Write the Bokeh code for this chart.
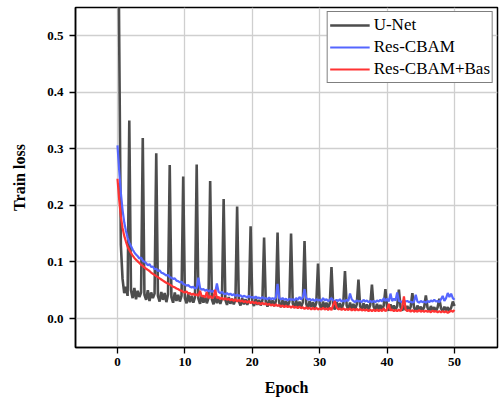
import numpy as np
from bokeh.plotting import figure
from bokeh.models import Range1d, FixedTicker, PrintfTickFormatter, Legend, LegendItem
from bokeh.embed import file_html
from bokeh.resources import INLINE

# Training loss sampled every quarter epoch (epoch 0 .. 50)
unet_loss = [
    0.900, 0.500, 0.130, 0.070, 0.045, 0.056, 0.040, 0.350,
    0.050, 0.036, 0.054, 0.034, 0.049, 0.038, 0.046, 0.319,
    0.042, 0.033, 0.050, 0.031, 0.046, 0.036, 0.044, 0.292,
    0.040, 0.030, 0.047, 0.033, 0.045, 0.029, 0.043, 0.271,
    0.038, 0.028, 0.046, 0.031, 0.042, 0.030, 0.040, 0.251,
    0.036, 0.027, 0.043, 0.029, 0.040, 0.028, 0.038, 0.272,
    0.035, 0.026, 0.041, 0.028, 0.039, 0.027, 0.036, 0.243,
    0.034, 0.025, 0.040, 0.027, 0.037, 0.026, 0.035, 0.211,
    0.033, 0.024, 0.038, 0.026, 0.035, 0.025, 0.034, 0.198,
    0.031, 0.023, 0.036, 0.025, 0.034, 0.024, 0.033, 0.163,
    0.030, 0.022, 0.035, 0.024, 0.033, 0.023, 0.032, 0.143,
    0.029, 0.021, 0.034, 0.023, 0.032, 0.022, 0.031, 0.152,
    0.028, 0.020, 0.033, 0.022, 0.031, 0.021, 0.030, 0.150,
    0.027, 0.019, 0.032, 0.021, 0.030, 0.020, 0.029, 0.137,
    0.026, 0.018, 0.031, 0.020, 0.029, 0.019, 0.028, 0.097,
    0.025, 0.017, 0.030, 0.019, 0.028, 0.018, 0.027, 0.091,
    0.024, 0.016, 0.029, 0.018, 0.027, 0.017, 0.026, 0.084,
    0.023, 0.016, 0.028, 0.017, 0.026, 0.016, 0.025, 0.069,
    0.022, 0.015, 0.027, 0.017, 0.025, 0.016, 0.024, 0.060,
    0.021, 0.015, 0.026, 0.016, 0.024, 0.015, 0.023, 0.052,
    0.020, 0.014, 0.025, 0.016, 0.023, 0.015, 0.022, 0.051,
    0.020, 0.014, 0.024, 0.015, 0.022, 0.014, 0.021, 0.045,
    0.019, 0.013, 0.023, 0.015, 0.021, 0.014, 0.020, 0.041,
    0.019, 0.013, 0.022, 0.014, 0.020, 0.013, 0.020, 0.035,
    0.018, 0.013, 0.021, 0.014, 0.020, 0.013, 0.019, 0.030,
    0.022,
]

rescbam_loss = [
    0.306, 0.262, 0.222, 0.192, 0.170, 0.155, 0.143, 0.134,
    0.128, 0.122, 0.117, 0.113, 0.110, 0.106, 0.108, 0.102,
    0.100, 0.098, 0.094, 0.096, 0.091, 0.092, 0.087, 0.088,
    0.084, 0.085, 0.081, 0.080, 0.078, 0.076, 0.077, 0.073,
    0.072, 0.070, 0.071, 0.067, 0.066, 0.064, 0.065, 0.061,
    0.060, 0.058, 0.059, 0.056, 0.055, 0.056, 0.053, 0.054,
    0.072, 0.054, 0.051, 0.052, 0.049, 0.051, 0.048, 0.050,
    0.047, 0.049, 0.046, 0.062, 0.047, 0.045, 0.047, 0.044,
    0.043, 0.045, 0.042, 0.044, 0.041, 0.043, 0.040, 0.042,
    0.040, 0.041, 0.038, 0.040, 0.039, 0.037, 0.040, 0.037,
    0.038, 0.036, 0.039, 0.036, 0.037, 0.035, 0.038, 0.035,
    0.036, 0.034, 0.037, 0.034, 0.036, 0.034, 0.037, 0.061,
    0.036, 0.034, 0.036, 0.033, 0.035, 0.032, 0.035, 0.033,
    0.034, 0.032, 0.036, 0.033, 0.038, 0.034, 0.037, 0.052,
    0.036, 0.033, 0.035, 0.032, 0.034, 0.031, 0.034, 0.032,
    0.033, 0.031, 0.036, 0.032, 0.034, 0.031, 0.033, 0.036,
    0.032, 0.030, 0.033, 0.031, 0.034, 0.030, 0.032, 0.030,
    0.033, 0.031, 0.044, 0.034, 0.031, 0.029, 0.032, 0.030,
    0.031, 0.029, 0.033, 0.030, 0.032, 0.029, 0.031, 0.029,
    0.031, 0.029, 0.032, 0.030, 0.033, 0.030, 0.036, 0.031,
    0.035, 0.030, 0.044, 0.031, 0.035, 0.032, 0.046, 0.031,
    0.030, 0.029, 0.032, 0.030, 0.031, 0.029, 0.030, 0.028,
    0.030, 0.042, 0.030, 0.028, 0.031, 0.029, 0.030, 0.028,
    0.031, 0.029, 0.032, 0.030, 0.033, 0.030, 0.031, 0.029,
    0.034, 0.040, 0.031, 0.036, 0.045, 0.038, 0.044, 0.036,
    0.033,
]

rescbam_bas_loss = [
    0.247, 0.210, 0.180, 0.160, 0.146, 0.136, 0.127, 0.121,
    0.116, 0.111, 0.107, 0.104, 0.101, 0.098, 0.095, 0.093,
    0.090, 0.088, 0.086, 0.084, 0.081, 0.079, 0.077, 0.075,
    0.073, 0.071, 0.069, 0.067, 0.065, 0.063, 0.062, 0.060,
    0.058, 0.056, 0.055, 0.053, 0.052, 0.050, 0.049, 0.047,
    0.046, 0.048, 0.044, 0.045, 0.042, 0.044, 0.041, 0.043,
    0.040, 0.049, 0.039, 0.040, 0.037, 0.047, 0.036, 0.040,
    0.036, 0.038, 0.051, 0.036, 0.038, 0.034, 0.037, 0.033,
    0.036, 0.033, 0.035, 0.032, 0.034, 0.031, 0.034, 0.030,
    0.033, 0.030, 0.032, 0.029, 0.031, 0.028, 0.031, 0.027,
    0.030, 0.027, 0.029, 0.026, 0.028, 0.025, 0.028, 0.025,
    0.027, 0.024, 0.026, 0.023, 0.025, 0.022, 0.025, 0.022,
    0.024, 0.021, 0.023, 0.020, 0.023, 0.020, 0.022, 0.019,
    0.022, 0.019, 0.021, 0.018, 0.021, 0.018, 0.020, 0.017,
    0.020, 0.017, 0.019, 0.016, 0.019, 0.016, 0.019, 0.016,
    0.018, 0.016, 0.019, 0.016, 0.018, 0.015, 0.019, 0.015,
    0.024, 0.031, 0.020, 0.016, 0.018, 0.015, 0.018, 0.015,
    0.017, 0.015, 0.018, 0.014, 0.017, 0.014, 0.017, 0.014,
    0.017, 0.014, 0.016, 0.014, 0.016, 0.013, 0.016, 0.013,
    0.016, 0.013, 0.016, 0.013, 0.016, 0.013, 0.018, 0.013,
    0.016, 0.026, 0.014, 0.016, 0.013, 0.015, 0.013, 0.016,
    0.013, 0.020, 0.039, 0.016, 0.013, 0.015, 0.012, 0.015,
    0.012, 0.014, 0.012, 0.015, 0.012, 0.014, 0.012, 0.014,
    0.012, 0.013, 0.011, 0.014, 0.012, 0.013, 0.011, 0.013,
    0.011, 0.013, 0.011, 0.013, 0.010, 0.012, 0.014, 0.012,
    0.015,
]

epochs = np.arange(len(unet_loss)) * 0.25

x_ticks = [0, 10, 20, 30, 40, 50]
y_ticks = [0.0, 0.1, 0.2, 0.3, 0.4, 0.5]
series_names = ["U-Net", "Res-CBAM", "Res-CBAM+Bas"]

SERIF = "Liberation Serif"

p = figure(
    width=499, height=402,
    output_backend="svg", toolbar_location=None,
    x_range=Range1d(-6.23, 56.38), y_range=Range1d(-0.0512, 0.5495),
    min_border_left=75, min_border_right=2, min_border_top=7, min_border_bottom=55,
)
p.background_fill_color = "white"
p.border_fill_color = "white"
p.outline_line_color = "black"
p.outline_line_width = 1.5
p.outline_line_alpha = 1.0

r_unet = p.line(epochs, unet_loss, line_color="#4d4d4d", line_width=2.6)
r_res = p.line(epochs, rescbam_loss, line_color="#5566ff", line_width=2.2)
r_bas = p.line(epochs, rescbam_bas_loss, line_color="#ff3333", line_width=2.2)

for ax in (p.xaxis[0], p.yaxis[0]):
    ax.axis_line_color = "black"
    ax.axis_line_width = 1.5
    ax.major_tick_line_color = "black"
    ax.major_tick_line_width = 1.3
    ax.major_tick_out = 6
    ax.major_tick_in = 0
    ax.minor_tick_line_color = None
    ax.major_label_text_font = SERIF
    ax.major_label_text_font_style = "bold"
    ax.major_label_text_font_size = "13px"
    ax.major_label_text_color = "black"
    ax.axis_label_text_font = SERIF
    ax.axis_label_text_font_style = "bold"
    ax.axis_label_text_font_size = "16px"
    ax.axis_label_text_color = "black"

p.xaxis.ticker = FixedTicker(ticks=x_ticks)
p.yaxis.ticker = FixedTicker(ticks=y_ticks)
p.yaxis.formatter = PrintfTickFormatter(format="%.1f")
p.xaxis.axis_label = "Epoch"
p.yaxis.axis_label = "Train loss"
p.xaxis.major_label_standoff = 4
p.yaxis.major_label_standoff = 6
p.xaxis.axis_label_standoff = 10
p.yaxis.axis_label_standoff = 16

p.xgrid.grid_line_color = "#cfcfcf"
p.ygrid.grid_line_color = "#cfcfcf"
p.xgrid.grid_line_width = 1.3
p.ygrid.grid_line_width = 1.3

legend = Legend(
    items=[
        LegendItem(label=series_names[0], renderers=[r_unet]),
        LegendItem(label=series_names[1], renderers=[r_res]),
        LegendItem(label=series_names[2], renderers=[r_bas]),
    ],
    location="top_right",
    margin=4,
    padding=2,
    spacing=0,
    label_height=22,
    glyph_height=22,
    glyph_width=40,
    label_standoff=4,
    label_text_font=SERIF,
    label_text_font_size="17px",
    label_text_color="black",
    border_line_color="black",
    border_line_width=1.5,
    background_fill_color="white",
    background_fill_alpha=1.0,
)
p.add_layout(legend)

open("out.html", "w").write(file_html(p, INLINE))
